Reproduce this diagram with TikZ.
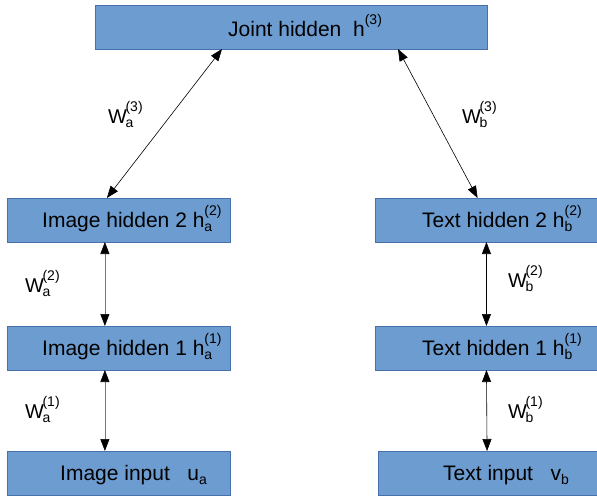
\documentclass[tikz,border=0pt]{standalone}
\usepackage{fontspec}
\setmainfont{Liberation Sans}
\usetikzlibrary{arrows.meta,calc}
\definecolor{boxfill}{RGB}{108,156,208}
\definecolor{boxline}{RGB}{72,112,172}
\definecolor{lgray}{RGB}{120,120,120}
\newcommand\subsz{\fontsize{14pt}{14pt}\selectfont}
\newcommand\hsupsub[3]{#1\rlap{\raisebox{-0.4ex}{\subsz #2}}\raisebox{1.05ex}{\subsz(#3)}}
\newcommand\wsupsub[2]{W\kern-1.5pt\rlap{\raisebox{-0.4ex}{\subsz #1}}\raisebox{1.05ex}{\subsz(#2)}}
\begin{document}
\begin{tikzpicture}[x=1pt,y=-1pt,
  box/.style={draw=boxline,fill=boxfill,line width=0.8pt,minimum height=44pt,inner sep=0pt,outer sep=0pt},
  txt/.style={anchor=base west,inner sep=0pt,font=\fontsize{21pt}{21pt}\selectfont},
  wlab/.style={anchor=base west,inner sep=0pt,font=\fontsize{20pt}{20pt}\selectfont},
  conn/.style={{Triangle[length=12pt,width=9pt,color=black]}-{Triangle[length=12pt,width=9pt,color=black]},line width=0.6pt},
]
\useasboundingbox (0,0) rectangle (597,496);
% boxes
\node[box,minimum width=392pt] (J) at (291,27) {};
\node[box,minimum width=223pt] (A2) at (118.5,220) {};
\node[box,minimum width=223pt] (A1) at (118.5,348) {};
\node[box,minimum width=223pt] (A0) at (118.5,473) {};
\node[box,minimum width=222pt] (B2) at (486,220) {};
\node[box,minimum width=222pt] (B1) at (486,348) {};
\node[box,minimum width=219pt] (B0) at (487.5,473) {};
% box texts
\node[txt] (tJ) at (228,36) {Joint hidden~~\hsupsub{h}{}{3}};
\node[txt] (tA2) at (42,227) {Image hidden 2 \hsupsub{h}{a}{2}};
\node[txt] (tA1) at (42,355) {Image hidden 1 \hsupsub{h}{a}{1}};
\node[txt] (tA0) at (60,480) {Image input~~~u\raisebox{-0.4ex}{\subsz a}};
\node[txt] (tB2) at (422,227) {Text hidden 2 \hsupsub{h}{b}{2}};
\node[txt] (tB1) at (422,355) {Text hidden 1 \hsupsub{h}{b}{1}};
\node[txt] (tB0) at (443,480) {Text input~~~v\raisebox{-0.4ex}{\subsz b}};
% connectors
\draw[conn] ($(J.south west)!0.324!(J.south east)$) -- ($(A2.north west)!0.448!(A2.north east)$);
\draw[conn] ($(J.south west)!0.773!(J.south east)$) -- ($(B2.north west)!0.462!(B2.north east)$);
\draw[conn,draw=lgray] ($(A2.south west)!0.439!(A2.south east)$) -- ($(A1.north west)!0.439!(A1.north east)$);
\draw[conn,draw=lgray] ($(A1.south west)!0.439!(A1.south east)$) -- ($(A0.north west)!0.439!(A0.north east)$);
\draw[conn] ($(B2.south west)!0.502!(B2.south east)$) -- ($(B1.north west)!0.502!(B1.north east)$);
\draw[conn] ($(B1.south west)!0.502!(B1.south east)$) -- ($(B0.north west)!0.498!(B0.north east)$);
% weight labels
\node[wlab] (w3a) at (108,123) {\wsupsub{a}{3}};
\node[wlab] (w3b) at (462,123) {\wsupsub{b}{3}};
\node[wlab] (w2a) at (25,292) {\wsupsub{a}{2}};
\node[wlab] (w2b) at (508,287) {\wsupsub{b}{2}};
\node[wlab] (w1a) at (25,418) {\wsupsub{a}{1}};
\node[wlab] (w1b) at (508,418) {\wsupsub{b}{1}};
\end{tikzpicture}
\end{document}
